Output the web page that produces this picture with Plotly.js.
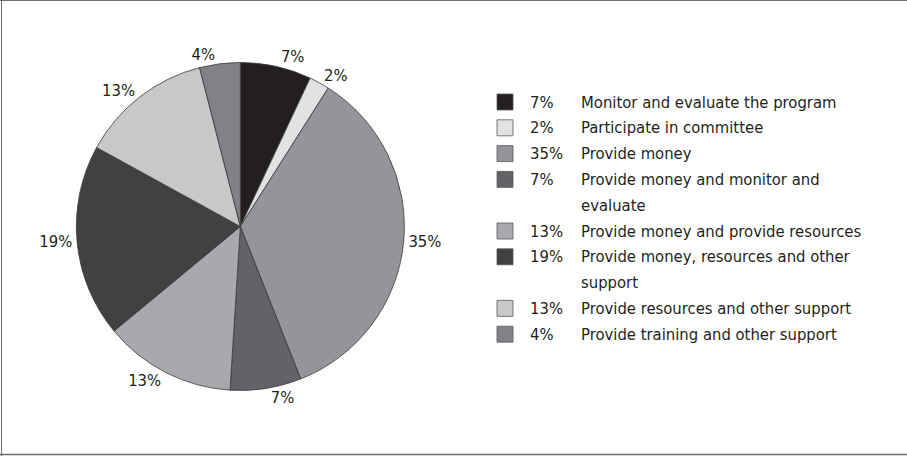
<!DOCTYPE html>
<html>
<head>
<meta charset="utf-8">
<script src="https://cdn.plot.ly/plotly-3.0.1.min.js"></script>
<style>
  html, body { margin: 0; padding: 0; background: #fff; }
  #chart { width: 907px; height: 456px; }
</style>
</head>
<body>
<div id="chart"></div>
<script>
var categories = [
  'Monitor and evaluate the program',
  'Participate in committee',
  'Provide money',
  'Provide money and monitor and evaluate',
  'Provide money and provide resources',
  'Provide money, resources and other support',
  'Provide resources and other support',
  'Provide training and other support'
];
var shares = [7, 2, 35, 7, 13, 19, 13, 4];
var sliceColors = ['#231f20', '#e1e2e3', '#939598', '#626366', '#a7a9ac', '#414042', '#c7c8ca', '#808285'];

var W = 907, H = 456;
var FONT = '"DejaVu Sans Condensed", "Liberation Sans Narrow", sans-serif';
var FSIZE = 16.5;

// wrap a label at about 35 characters, like the printed legend
function wrap(text, max) {
  var words = text.split(' '), lines = [], cur = '';
  words.forEach(function(w) {
    if (cur && (cur + ' ' + w).length > max) { lines.push(cur); cur = w; }
    else cur = cur ? cur + ' ' + w : w;
  });
  lines.push(cur);
  return lines;
}

var pie = {
  type: 'pie',
  values: shares,
  labels: categories,
  marker: {colors: sliceColors, line: {color: '#3a3a3c', width: 0.8}},
  sort: false,
  direction: 'clockwise',
  rotation: 0,
  textposition: 'outside',
  texttemplate: '%{value}%',
  textfont: {family: FONT, size: FSIZE, color: '#231f20'},
  showlegend: false,
  hoverinfo: 'label+percent',
  domain: {x: [0.03, 0.50], y: [0.1437, 0.8630]}
};

// hand-built legend: square, percentage, wrapped label
var shapes = [], annotations = [];
var rowH = 25.8, py = 102;
function px2x(x) { return x / W; }
function px2y(y) { return 1 - y / H; }

for (var i = 0; i < categories.length; i++) {
  var lines = wrap(categories[i], 35);
  shapes.push({
    type: 'rect', xref: 'paper', yref: 'paper',
    x0: px2x(497), x1: px2x(513), y0: px2y(py - 8), y1: px2y(py + 8),
    fillcolor: sliceColors[i], line: {color: '#58595b', width: 0.8}
  });
  annotations.push({
    xref: 'paper', yref: 'paper', x: px2x(528), y: px2y(py),
    xanchor: 'left', yanchor: 'middle', showarrow: false,
    text: shares[i] + '%', font: {family: FONT, size: FSIZE, color: '#231f20'}
  });
  lines.forEach(function(line) {
    annotations.push({
      xref: 'paper', yref: 'paper', x: px2x(579), y: px2y(py),
      xanchor: 'left', yanchor: 'middle', showarrow: false,
      text: line, font: {family: FONT, size: FSIZE, color: '#231f20'}
    });
    py += rowH;
  });
}

// frame: top, left and bottom rules
shapes.push({type: 'line', xref: 'paper', yref: 'paper', x0: 0, x1: 1, y0: px2y(0.5), y1: px2y(0.5), line: {color: '#6d6e71', width: 1}});
shapes.push({type: 'line', xref: 'paper', yref: 'paper', x0: px2x(1.5), x1: px2x(1.5), y0: 0, y1: 1, line: {color: '#6d6e71', width: 1}});
shapes.push({type: 'line', xref: 'paper', yref: 'paper', x0: 0, x1: 1, y0: px2y(454.5), y1: px2y(454.5), line: {color: '#6d6e71', width: 1.5}});

var layout = {
  width: W, height: H,
  margin: {l: 0, r: 0, t: 0, b: 0},
  paper_bgcolor: 'white',
  plot_bgcolor: 'white',
  shapes: shapes,
  annotations: annotations,
  showlegend: false
};

Plotly.newPlot('chart', [pie], layout, {displayModeBar: false, staticPlot: true}).then(function(gd) {
  // the printed chart has no leader lines next to the outside labels
  gd.querySelectorAll('path.textline').forEach(function(p) { p.remove(); });
});
</script>
</body>
</html>
